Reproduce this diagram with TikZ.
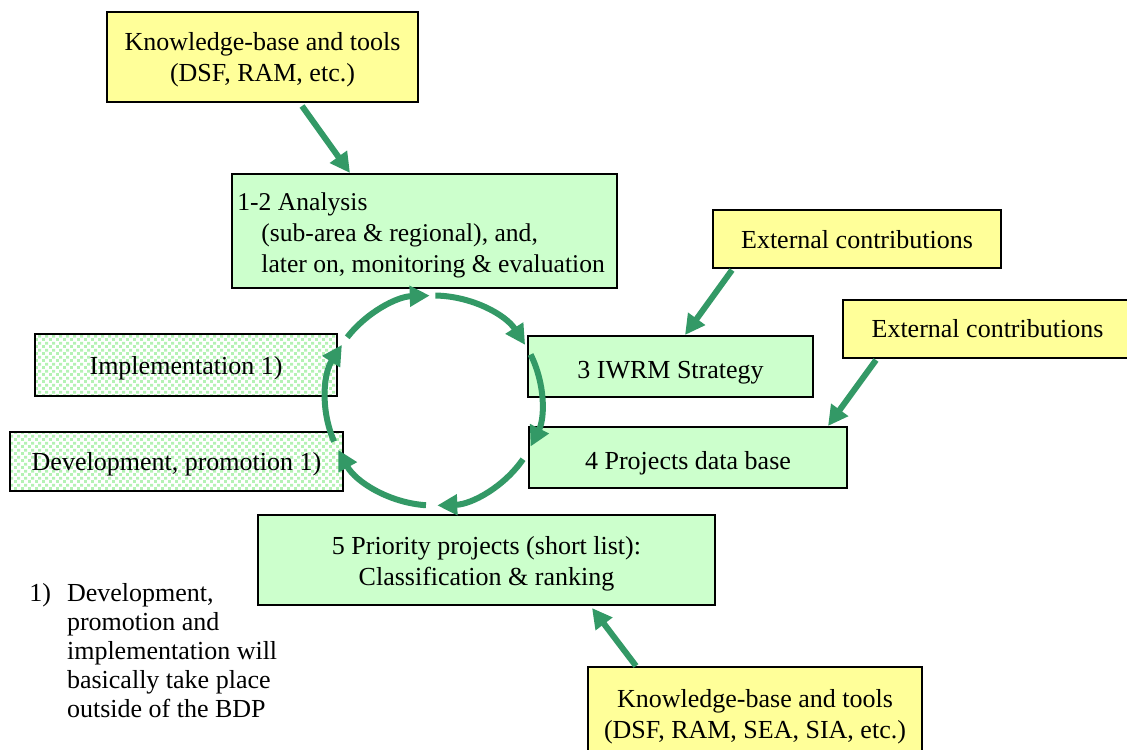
\documentclass[tikz,border=0pt]{standalone}
\usepackage{fontspec}
\setmainfont{Liberation Serif}
\usetikzlibrary{arrows.meta,patterns,calc}
\definecolor{kbyellow}{HTML}{FFFF99}
\definecolor{boxgreen}{HTML}{CCFFCC}
\definecolor{arrgreen}{HTML}{339966}
\definecolor{dotgreen}{HTML}{B4F2B4}
\pgfdeclarepatternformonly{bigdots}{\pgfqpoint{0pt}{0pt}}{\pgfqpoint{3.6pt}{3.6pt}}{\pgfqpoint{3.6pt}{3.6pt}}{%
  \pgfpathrectangle{\pgfqpoint{0pt}{0pt}}{\pgfqpoint{1.6pt}{1.6pt}}%
  \pgfpathrectangle{\pgfqpoint{1.8pt}{1.8pt}}{\pgfqpoint{1.6pt}{1.6pt}}%
  \pgfusepath{fill}}
\begin{document}
\begin{tikzpicture}[x=0.5pt,y=-0.5pt,
  every node/.style={font=\fontsize{13}{15.5}\selectfont, inner sep=0pt, align=center},
  ybox/.style={draw=black, line width=1pt, fill=kbyellow},
  gbox/.style={draw=black, line width=1pt, fill=boxgreen},
  pbox/.style={draw=black, line width=1pt, preaction={fill=white}, pattern=bigdots, pattern color=dotgreen},
  arr/.style={draw=arrgreen, line width=3pt, -{Triangle[length=10pt,width=10pt]}},
]
\clip (0,0) rectangle (1127,749);
\fill[white] (0,0) rectangle (1127,749);

\node[ybox, minimum width=155.5pt, minimum height=45pt,
  label={[yshift=-1.5pt]center:{Knowledge-base and tools\\(DSF, RAM, etc.)}}] (kb1) at (262.5,57) {};
\node[gbox, minimum width=192.5pt, minimum height=57pt,
  label={[anchor=west, xshift=3pt, yshift=-2pt, align=left, font=\fontsize{12.8}{15.5}\selectfont]west:{1-2 Analysis\\\hspace*{12pt}(sub-area \& regional), and,\\\hspace*{12pt}later on, monitoring \& evaluation}}] (an) at (424.5,231) {};
\node[ybox, minimum width=144pt, minimum height=29pt,
  label={[yshift=-0.5pt]center:External contributions}] (ext1) at (857,239) {};
\node[ybox, minimum width=144.5pt, minimum height=29pt,
  label={[yshift=0pt]center:External contributions}] (ext2) at (987.5,329) {};
\node[gbox, minimum width=142.5pt, minimum height=30.5pt,
  label={[yshift=-3pt]center:3 IWRM Strategy}] (iwrm) at (670.5,366.5) {};
\node[pbox, minimum width=151pt, minimum height=31pt,
  label={[yshift=-1.5pt]center:Implementation 1)}] (impl) at (186,365) {};
\node[pbox, minimum width=166.5pt, minimum height=29.5pt,
  label={[yshift=-1.5pt]center:Development, promotion 1)}] (dev) at (176.5,461.5) {};
\node[gbox, minimum width=159pt, minimum height=30.5pt,
  label={[yshift=-3pt]center:4 Projects data base}] (db) at (688,457.5) {};
\node[gbox, minimum width=228.5pt, minimum height=45pt,
  label={[yshift=-1.75pt]center:{5 Priority projects (short list):\\Classification \& ranking}}] (pr) at (486.5,560) {};
\node[ybox, minimum width=167pt, minimum height=45pt,
  label={[yshift=-2.25pt]center:{Knowledge-base and tools\\(DSF, RAM, SEA, SIA, etc.)}}] (kb2) at (755,712) {};

\node[anchor=north west, align=left, font=\fontsize{13}{14.5}\selectfont] (note) at (29,581)
  {\begin{tabular}{@{}l@{\hspace{8pt}}l@{}}1) & Development,\\ & promotion and\\ & implementation will\\ & basically take place\\ & outside of the BDP\end{tabular}};

% straight arrows
\draw[arr] ($(kb1.south)+(39.5,3)$) -- ($(an.north)+(-74.5,0)$);
\draw[arr] ($(ext1.south)+(-125,1)$) -- ($(iwrm.north)+(14.5,0)$);
\draw[arr] ($(ext2.south)+(-111.5,1)$) -- ($(db.north)+(140,0)$);
\draw[arr] ($(kb2.north)+(-119,0)$) -- ($(pr.south)+(105.5,2)$);

% cycle
\coordinate (cyc) at (433.5,400.5);
\foreach \s/\e in {-143/-92, -89/-32, -26/26, 34/88, 94/152, 157/212}
  \draw[arr] (cyc) ++(\s:108 and 105) arc[start angle=\s, end angle=\e, x radius=108, y radius=105];
\end{tikzpicture}
\end{document}
